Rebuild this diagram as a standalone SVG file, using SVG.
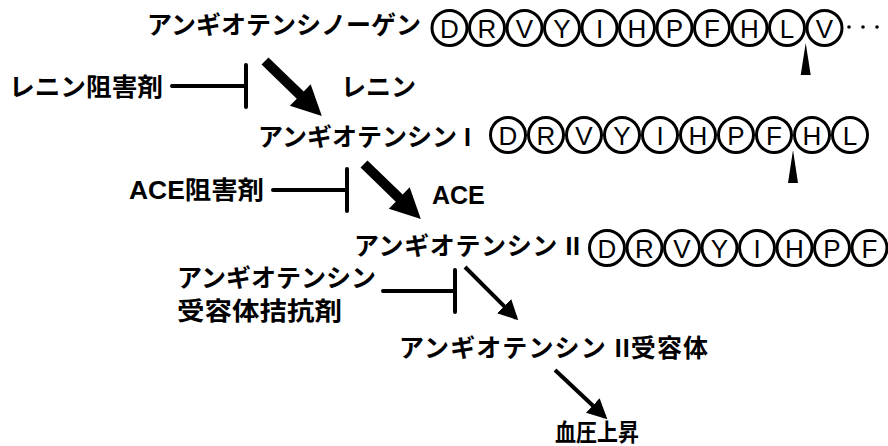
<svg xmlns="http://www.w3.org/2000/svg" width="888" height="446" viewBox="0 0 888 446">
<style>
.t{font-family:"Liberation Sans","Noto Sans CJK JP",sans-serif;font-weight:bold;font-size:25px;fill:#000}
.aa{font-family:"Liberation Sans",Arial,sans-serif;font-size:26px;fill:#000;text-anchor:middle}
.c{fill:#fff;stroke:#000;stroke-width:3}
.inh{stroke:#000;stroke-width:4;fill:none;stroke-linecap:round}
.thin{stroke:#000;stroke-width:4;fill:none}
</style>
<defs>
<marker id="ah" markerWidth="5" markerHeight="5" refX="4.2" refY="2.5" orient="auto" markerUnits="strokeWidth">
<path d="M0,0 L5,2.5 L0,5 Z" fill="#000"/>
</marker>
<symbol id="dot" overflow="visible"><circle r="1.8" fill="#000"/></symbol>
</defs>
<rect width="888" height="446" fill="#fff"/>

<g id="angiotensinogen">
<text class="t" x="147" y="34">アンギオテンシノーゲン</text>
<g id="seq1">
<circle class="c" cx="449.5" cy="28" r="17.5"/><text class="aa" x="449.5" y="37.5">D</text>
<circle class="c" cx="487" cy="28" r="17.5"/><text class="aa" x="487" y="37.5">R</text>
<circle class="c" cx="524.5" cy="28" r="17.5"/><text class="aa" x="524.5" y="37.5">V</text>
<circle class="c" cx="562" cy="28" r="17.5"/><text class="aa" x="562" y="37.5">Y</text>
<circle class="c" cx="599.5" cy="28" r="17.5"/><text class="aa" x="599.5" y="37.5">I</text>
<circle class="c" cx="637" cy="28" r="17.5"/><text class="aa" x="637" y="37.5">H</text>
<circle class="c" cx="674.5" cy="28" r="17.5"/><text class="aa" x="674.5" y="37.5">P</text>
<circle class="c" cx="712" cy="28" r="17.5"/><text class="aa" x="712" y="37.5">F</text>
<circle class="c" cx="749.5" cy="28" r="17.5"/><text class="aa" x="749.5" y="37.5">H</text>
<circle class="c" cx="787" cy="28" r="17.5"/><text class="aa" x="787" y="37.5">L</text>
<circle class="c" cx="824.5" cy="28" r="17.5"/><text class="aa" x="824.5" y="37.5">V</text>
<use href="#dot" x="849" y="27"/><use href="#dot" x="863" y="27"/><use href="#dot" x="877" y="27"/>
<polygon points="805.7,43 800.7,75 810.7,75" fill="#000"/>
</g>
</g>

<g id="renin-inhibitor"><text class="t" x="9" y="96" textLength="154" lengthAdjust="spacingAndGlyphs">レニン阻害剤</text></g>
<g id="renin"><text class="t" x="341" y="96">レニン</text></g>

<g id="angiotensin1">
<text class="t" x="258" y="146">アンギオテンシン I</text>
<g id="seq2">
<circle class="c" cx="508" cy="135" r="17.5"/><text class="aa" x="508" y="144.5">D</text>
<circle class="c" cx="546" cy="135" r="17.5"/><text class="aa" x="546" y="144.5">R</text>
<circle class="c" cx="584" cy="135" r="17.5"/><text class="aa" x="584" y="144.5">V</text>
<circle class="c" cx="622" cy="135" r="17.5"/><text class="aa" x="622" y="144.5">Y</text>
<circle class="c" cx="660" cy="135" r="17.5"/><text class="aa" x="660" y="144.5">I</text>
<circle class="c" cx="698" cy="135" r="17.5"/><text class="aa" x="698" y="144.5">H</text>
<circle class="c" cx="736" cy="135" r="17.5"/><text class="aa" x="736" y="144.5">P</text>
<circle class="c" cx="774" cy="135" r="17.5"/><text class="aa" x="774" y="144.5">F</text>
<circle class="c" cx="812" cy="135" r="17.5"/><text class="aa" x="812" y="144.5">H</text>
<circle class="c" cx="850" cy="135" r="17.5"/><text class="aa" x="850" y="144.5">L</text>
<polygon points="793,150 788,183 798,183" fill="#000"/>
</g>
</g>

<g id="ace-inhibitor"><text class="t" x="129" y="199" textLength="135" lengthAdjust="spacingAndGlyphs">ACE阻害剤</text></g>
<g id="ace"><text class="t" x="432" y="204">ACE</text></g>

<g id="angiotensin2">
<text class="t" x="354" y="255" textLength="226" lengthAdjust="spacing">アンギオテンシン II</text>
<g id="seq3">
<circle class="c" cx="607" cy="248" r="17.5"/><text class="aa" x="607" y="257.5">D</text>
<circle class="c" cx="644.5" cy="248" r="17.5"/><text class="aa" x="644.5" y="257.5">R</text>
<circle class="c" cx="682" cy="248" r="17.5"/><text class="aa" x="682" y="257.5">V</text>
<circle class="c" cx="719.5" cy="248" r="17.5"/><text class="aa" x="719.5" y="257.5">Y</text>
<circle class="c" cx="757" cy="248" r="17.5"/><text class="aa" x="757" y="257.5">I</text>
<circle class="c" cx="794.5" cy="248" r="17.5"/><text class="aa" x="794.5" y="257.5">H</text>
<circle class="c" cx="832" cy="248" r="17.5"/><text class="aa" x="832" y="257.5">P</text>
<circle class="c" cx="869.5" cy="248" r="17.5"/><text class="aa" x="869.5" y="257.5">F</text>
</g>
</g>

<g id="arb">
<text class="t" x="177" y="287">アンギオテンシン</text>
<text class="t" x="177" y="320" textLength="165" lengthAdjust="spacingAndGlyphs">受容体拮抗剤</text>
</g>

<g id="at2-receptor"><text class="t" x="399" y="357" textLength="309" lengthAdjust="spacing">アンギオテンシン II受容体</text></g>
<g id="bp-rise"><text class="t" x="555" y="441" style="font-size:24px" textLength="84" lengthAdjust="spacingAndGlyphs">血圧上昇</text></g>

<g id="connectors">
<path class="inh" d="M172,86 H246 M246,65 V107"/>
<path class="inh" d="M273,190 H347 M347,169 V211"/>
<path class="inh" d="M383,291 H455 M455,270 V312"/>
<g transform="translate(265,61) rotate(44)"><polygon points="0,-5 49,-5 49,-15 79,0 49,15 49,5 0,5" fill="#000"/></g>
<g transform="translate(364,164) rotate(44)"><polygon points="0,-5 49,-5 49,-15 79,0 49,15 49,5 0,5" fill="#000"/></g>
<line class="thin" x1="465" y1="267" x2="516" y2="318" marker-end="url(#ah)"/>
<line class="thin" x1="555" y1="370" x2="605" y2="417" marker-end="url(#ah)"/>
</g>
</svg>
